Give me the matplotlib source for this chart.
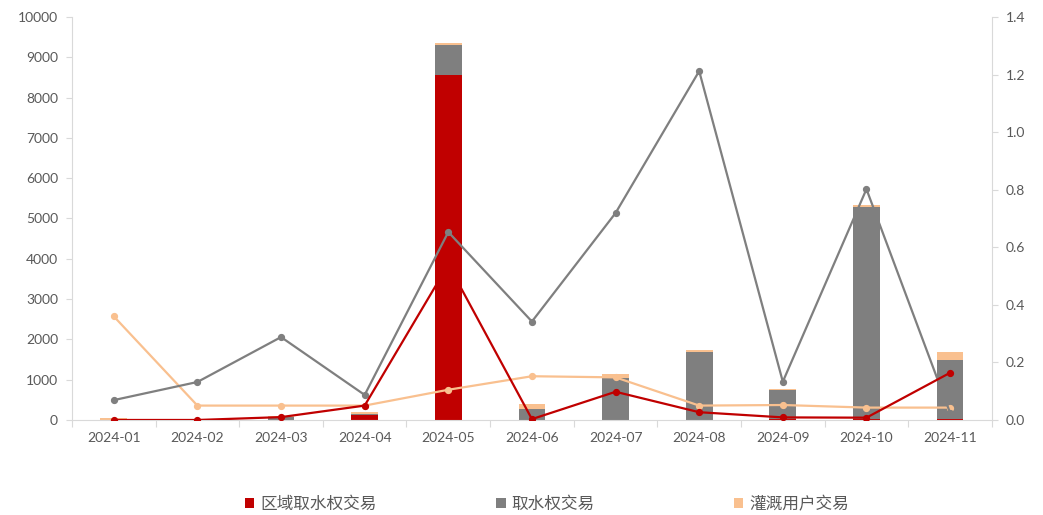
import matplotlib
matplotlib.use("Agg")
import matplotlib.pyplot as plt
from matplotlib.patches import Patch
from matplotlib.ticker import MultipleLocator, FixedLocator
import numpy as np

plt.rcParams['font.family'] = ['Lato', 'Noto Sans CJK SC', 'DejaVu Sans']

months = ['2024-01', '2024-02', '2024-03', '2024-04', '2024-05', '2024-06',
          '2024-07', '2024-08', '2024-09', '2024-10', '2024-11']

# Transaction volumes (left axis, stacked bars)
regional = [0, 0, 10, 120, 8560, 0, 0, 0, 15, 30, 20]
water_right = [0, 0, 70, 40, 750, 270, 1050, 1690, 720, 5250, 1470]
irrigation = [40, 30, 20, 40, 50, 120, 100, 40, 40, 55, 200]

# Ratios (right axis, lines)
regional_ratio = [0.0, 0.0, 0.01, 0.05, 0.54, 0.003, 0.098, 0.027, 0.009, 0.008, 0.164]
water_right_ratio = [0.069, 0.132, 0.288, 0.087, 0.653, 0.342, 0.719, 1.212, 0.133, 0.802, 0.025]
irrigation_ratio = [0.36, 0.05, 0.05, 0.05, 0.105, 0.152, 0.148, 0.05, 0.052, 0.043, 0.043]

series_names = ['区域取水权交易', '取水权交易', '灌溉用户交易']
colors = ['#C00000', '#7F7F7F', '#F9C08F']
axis_color = '#D9D9D9'
text_color = '#595959'

fig = plt.figure(figsize=(10.43, 5.15), dpi=100)
ax = fig.add_axes([0.069, 0.1845, 0.882, 0.7825])
ax2 = ax.twinx()

x = np.arange(len(months))
w = 0.32
reg = np.array(regional, dtype=float)
wr = np.array(water_right, dtype=float)
irr = np.array(irrigation, dtype=float)
ax.bar(x, reg, w, color=colors[0], zorder=2)
ax.bar(x, wr, w, bottom=reg, color=colors[1], zorder=2)
ax.bar(x, irr, w, bottom=reg + wr, color=colors[2], zorder=2)

for vals, c in zip([irrigation_ratio, water_right_ratio, regional_ratio],
                   [colors[2], colors[1], colors[0]]):
    ax2.plot(x, vals, color=c, lw=1.6, marker='o', ms=4.2, zorder=3)

ax.set_xlim(-0.5, len(months) - 0.5)
ax.set_ylim(0, 10000)
ax2.set_ylim(0, 1.4)
ax.yaxis.set_major_locator(MultipleLocator(1000))
ax2.yaxis.set_major_locator(MultipleLocator(0.2))
ax2.yaxis.set_major_formatter(matplotlib.ticker.FormatStrFormatter('%.1f'))

ax.set_xticks(x)
ax.set_xticklabels(months)
ax.xaxis.set_minor_locator(FixedLocator(np.arange(-0.5, len(months), 1.0)))
ax.tick_params(axis='x', which='major', length=0, pad=9, labelsize=10, labelcolor=text_color)
ax.tick_params(axis='x', which='minor', length=5, width=0.8, color=axis_color)
ax.tick_params(axis='y', length=4, width=0.8, color=axis_color, pad=6,
               labelsize=10, labelcolor=text_color)
ax2.tick_params(axis='y', length=4, width=0.8, color=axis_color, pad=6,
                labelsize=10, labelcolor=text_color)

for a in (ax, ax2):
    a.spines['top'].set_visible(False)
    for s in ('left', 'right', 'bottom'):
        a.spines[s].set_color(axis_color)
        a.spines[s].set_linewidth(0.8)
ax.spines['right'].set_visible(False)
ax2.spines['left'].set_visible(False)
ax2.spines['bottom'].set_visible(False)

# Legend entries spread along the bottom
legend_x = [0.235, 0.476, 0.704]
for name, c, lx in zip(series_names, colors, legend_x):
    fig.legend(handles=[Patch(facecolor=c, edgecolor='none')], labels=[name],
               loc='center left', bbox_to_anchor=(lx, 0.02), frameon=False,
               handlelength=0.55, handleheight=0.55, handletextpad=0.35,
               prop={'family': ['Noto Sans CJK SC', 'DejaVu Sans'], 'size': 12},
               labelcolor=text_color, borderaxespad=0, borderpad=0)

fig.savefig('out.png', dpi=100)
